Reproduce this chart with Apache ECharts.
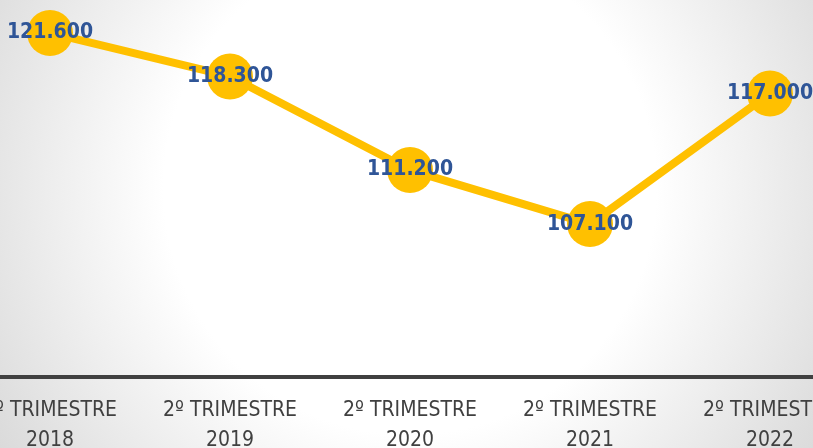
<!DOCTYPE html>
<html>
<head>
<meta charset="utf-8">
<script src="https://cdn.jsdelivr.net/npm/echarts@6/dist/echarts.min.js"></script>
<style>
  html, body { margin: 0; padding: 0; overflow: hidden; width: 813px; height: 448px; }
  #chart { width: 900px; height: 448px; margin-left: -40px; }
</style>
</head>
<body>
<div id="chart"></div>
<script>
// dados do gráfico
var categorias = ['2º TRIMESTRE\n2018', '2º TRIMESTRE\n2019', '2º TRIMESTRE\n2020', '2º TRIMESTRE\n2021', '2º TRIMESTRE\n2022'];
var valores = [121600, 118300, 111200, 107100, 117000];

var fonte = '"DejaVu Sans Condensed", "Liberation Sans Narrow", sans-serif';

var chart = echarts.init(document.getElementById('chart'));

function formatar(v) {
  // 121600 -> "121.600"
  var s = String(v);
  return s.slice(0, s.length - 3) + '.' + s.slice(s.length - 3);
}

var option = {
  backgroundColor: new echarts.graphic.RadialGradient(0.5, 0.42, 1.1, [
    { offset: 0, color: '#ffffff' },
    { offset: 0.5, color: '#ffffff' },
    { offset: 1, color: '#d9d9d9' }
  ]),
  animation: false,
  grid: {
    left: 0,
    right: 0,
    top: 0,
    bottom: 71,
    outerBoundsMode: 'none',
    containLabel: false
  },
  xAxis: {
    type: 'category',
    data: categorias,
    boundaryGap: true,
    axisLine: { show: true, lineStyle: { color: '#404040', width: 4 } },
    axisTick: { show: false },
    axisLabel: {
      interval: 0,
      margin: 19,
      color: '#404040',
      fontFamily: fonte,
      fontSize: 21,
      lineHeight: 30
    }
  },
  yAxis: {
    type: 'value',
    min: 95500,
    max: 124100,
    show: false,
    splitLine: { show: false }
  },
  series: [{
    type: 'line',
    data: valores,
    symbol: 'circle',
    symbolSize: 46,
    lineStyle: { color: '#FFC000', width: 8 },
    itemStyle: { color: '#FFC000' },
    label: {
      show: true,
      position: 'inside',
      color: '#2F5597',
      fontFamily: fonte,
      fontWeight: 'bold',
      fontSize: 21,
      formatter: function (p) { return formatar(p.value); }
    }
  }]
};

chart.setOption(option);
</script>
</body>
</html>
